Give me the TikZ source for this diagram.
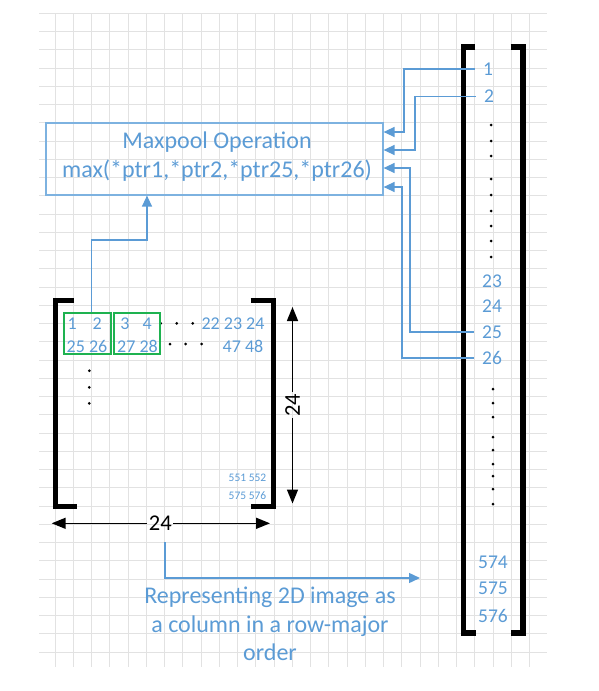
\documentclass[tikz,border=0pt]{standalone}
\usepackage{fontspec}
\setmainfont{Carlito}
\usetikzlibrary{arrows.meta}
\definecolor{obl}{RGB}{91,155,213}
\definecolor{obox}{RGB}{125,178,224}
\definecolor{ogr}{RGB}{30,178,80}
\definecolor{grd}{RGB}{226,226,226}
\begin{document}
\begin{tikzpicture}[x=1pt,y=-1pt,
  bigtxt/.style={text=obl,inner sep=0pt,font=\fontsize{24}{29}\selectfont},
  coln/.style={text=obl,inner sep=0pt,font=\fontsize{19.5}{22}\selectfont},
  ment/.style={text=obl,inner sep=0pt,font=\fontsize{18}{20}\selectfont},
  sment/.style={text=obl,inner sep=0pt,font=\fontsize{11.5}{13}\selectfont},
  dimlab/.style={text=black,inner sep=1.5pt,font=\fontsize{22.5}{25}\selectfont},
  gbox/.style={draw=ogr,line width=1.8pt,inner sep=0pt},
  opbox/.style={draw=obox,line width=1.2pt,inner sep=0pt},
  bconn/.style={draw=obl,line width=1.4pt,-{Triangle[length=11pt,width=10pt]}},
  bline/.style={draw=obl,line width=1.4pt},
  darr/.style={draw=black,line width=1.5pt,-{Triangle[length=14pt,width=11pt]}},
  brk/.style={draw=black,line width=5pt,line cap=butt,line join=miter},
  cbrk/.style={draw=black,line width=5.5pt,line cap=butt,line join=miter},
  dot/.style={fill=black}
]
\useasboundingbox (0,0) rectangle (598,691);
% grid
\begin{scope}
\clip (39,13) rectangle (547,667);
\foreach \k in {0,...,26} \draw[grd,line width=0.9pt] ({55+18.25*\k},13) -- ({55+18.25*\k},667);
\foreach \k in {0,...,35} \draw[grd,line width=0.9pt] (39,{13.3+18.25*\k}) -- (547,{13.3+18.25*\k});
\end{scope}

% Maxpool operation box
\node[opbox,minimum width=337pt,minimum height=72pt] (box) at (214.5,159) {};
\node[bigtxt,anchor=base] (op1) at (217,148.3) {Maxpool Operation};
\node[bigtxt,anchor=base] (op2) at (217,177) {max(*ptr1,*ptr2,*ptr25,*ptr26)};

% column vector brackets
\draw[cbrk] (475,47) -- (463.5,47) -- (463.5,633) -- (476,633);
\draw[cbrk] (510.7,47) -- (523,47) -- (523,633) -- (510.7,633);

% column labels
\node[coln] (c1) at (488,69) {1};
\node[coln] (c2) at (489,96.5) {2};
\node[coln] (c23) at (492,281) {23};
\node[coln] (c24) at (492,306) {24};
\node[coln] (c25) at (492,332) {25};
\node[coln] (c26) at (492,358) {26};
\node[coln] (c574) at (493,562) {574};
\node[coln] (c575) at (493,588) {575};
\node[coln] (c576) at (493,616) {576};
\foreach \y in {125,141,156,179,195,211,226,241,257} \fill[dot] (491,\y) circle (1.5);
\foreach \y in {389,403,417,437,450,464,476,489,504} \fill[dot] (493,\y) circle (1.5);

% connectors column -> box
\coordinate (k1) at (404,132);
\coordinate (k2) at (415,150);
\coordinate (k25) at (410,168);
\coordinate (k26) at (402,187);
\draw[bconn] ([xshift=-8pt]c1.west) -| (k1) -- (box.east |- k1);
\draw[bconn] ([xshift=-8pt]c2.west) -| (k2) -- (box.east |- k2);
\draw[bconn] ([xshift=-8pt]c25.west) -| (k25) -- (box.east |- k25);
\draw[bconn] ([xshift=-8pt]c26.west) -| (k26) -- (box.east |- k26);

% matrix brackets
\draw[brk] (74,300) -- (55,300) -- (55,506) -- (77,506);
\draw[brk] (250.7,300) -- (273,300) -- (273,506.7) -- (251,506.7);

% matrix entries
\node[ment] (e1) at (72.3,324) {1};
\node[ment] (e2) at (97.3,324) {2};
\node[ment] (e3) at (125,324) {3};
\node[ment] (e4) at (147.3,324) {4};
\node[ment] (e22) at (233,324) {22 23 24};
\node[ment] (e25) at (87,346.7) {25 26};
\node[ment] (e27) at (137.5,346.7) {27 28};
\node[ment] (e47) at (243,346.7) {47 48};
\node[sment] (e551) at (247.5,478.3) {551 552};
\node[sment] (e575) at (247.5,495.7) {575 576};
\foreach \x in {160.7,176.7,192.7} \fill[dot] (\x,323.3) circle (1.5);
\foreach \x in {170,185.7,201.7} \fill[dot] (\x,344) circle (1.5);
\foreach \y in {370.7,387.3,403.3} \fill[dot] (89.3,\y) circle (1.5);

% green windows
\node[gbox,minimum width=46.4pt,minimum height=41pt] (g1) at (87.5,333.8) {};
\node[gbox,minimum width=46pt,minimum height=41pt] (g2) at (137,333.8) {};

% connector window -> box
\coordinate (bend) at (147,240);
\draw[bconn] ([xshift=4.2pt]g1.north) |- (bend) -- (box.south -| bend);

% dimension arrows
\node[dimlab,rotate=90] (dv) at (292.5,405) {24};
\coordinate (vt) at (292.5,307);
\coordinate (vb) at (292.5,503.5);
\draw[darr] (dv.east) -- (vt);
\draw[darr] (dv.west) -- (vb);
\node[dimlab] (dh) at (160.3,523.3) {24};
\coordinate (hl) at (51.7,523.3);
\coordinate (hr) at (270,523.3);
\draw[darr] (dh.west) -- (hl);
\draw[darr] (dh.east) -- (hr);

% representing arrow
\coordinate (ra) at (165,542);
\coordinate (rb) at (420,578);
\draw[bconn] (ra) |- (rb);
\node[bigtxt,anchor=base] (r1) at (270,603) {Representing 2D image as};
\node[bigtxt,anchor=base] (r2) at (270,632) {a column in a row-major};
\node[bigtxt,anchor=base] (r3) at (270,660.5) {order};
\end{tikzpicture}
\end{document}
